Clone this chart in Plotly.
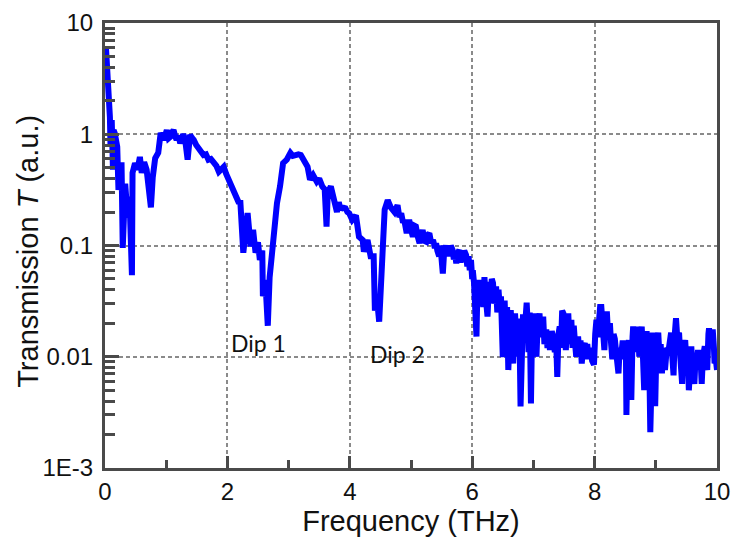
import math
import plotly.graph_objects as go

# Frequency (THz) and transmission T (a.u.)
# part 1: 0 - 5.4 THz
freq_a = [0.016, 0.05, 0.08, 0.09, 0.11, 0.13, 0.14, 0.16, 0.20, 0.22, 0.27, 0.29, 0.33, 0.37, 0.40,
          0.44, 0.45, 0.49, 0.53, 0.57, 0.60, 0.64, 0.68, 0.73, 0.75, 0.78, 0.82, 0.87, 0.91, 0.96,
          1.01, 1.04, 1.07, 1.10, 1.12, 1.15, 1.17, 1.20, 1.23, 1.28, 1.31, 1.35, 1.39, 1.42, 1.45,
          1.49, 1.53, 1.57, 1.61, 1.65, 1.69, 1.73, 1.78, 1.82, 1.86, 1.90, 1.94, 1.98, 2.02, 2.08,
          2.13, 2.19, 2.21, 2.26, 2.30, 2.33, 2.38, 2.42, 2.46, 2.50, 2.53, 2.57, 2.58, 2.62, 2.66,
          2.69, 2.73, 2.77, 2.81, 2.86, 2.91, 2.97, 3.03, 3.07, 3.11, 3.16, 3.20, 3.25, 3.31, 3.35,
          3.40, 3.46, 3.50, 3.55, 3.59, 3.62, 3.64, 3.69, 3.74, 3.79, 3.82, 3.85, 3.88, 3.93, 3.96,
          3.99, 4.04, 4.10, 4.15, 4.21, 4.23, 4.29, 4.34, 4.39, 4.41, 4.44, 4.48, 4.51, 4.54, 4.57,
          4.62, 4.67, 4.73, 4.78, 4.81, 4.84, 4.87, 4.89, 4.93, 4.97, 5.00, 5.03, 5.06, 5.08, 5.11,
          5.14, 5.17, 5.19, 5.22, 5.25, 5.28, 5.30, 5.33, 5.36, 5.39]
trans_a = [5.96, 3.07, 1.43, 0.77, 1.34, 0.48, 1.09, 1.02, 0.77, 0.316, 0.56, 0.095, 0.36, 0.178, 0.275,
           0.054, 0.45, 0.55, 0.48, 0.625, 0.45, 0.56, 0.48, 0.24, 0.22, 0.41, 0.61, 0.68, 1.03, 0.89,
           1.09, 0.92, 0.95, 1.05, 1.09, 0.95, 0.89, 0.97, 0.83, 1.0, 0.89, 0.59, 0.99, 0.93, 0.89,
           0.80, 0.75, 0.70, 0.65, 0.66, 0.59, 0.60, 0.55, 0.52, 0.46, 0.49, 0.51, 0.44, 0.39, 0.33,
           0.275, 0.24, 0.255, 0.086, 0.138, 0.196, 0.098, 0.138, 0.086, 0.107, 0.074, 0.09, 0.035, 0.049, 0.019,
           0.052, 0.086, 0.148, 0.24, 0.34, 0.55, 0.59, 0.68, 0.64, 0.65, 0.66, 0.65, 0.59, 0.51, 0.39,
           0.43, 0.375, 0.40, 0.34, 0.32, 0.148, 0.30, 0.34, 0.255, 0.20, 0.245, 0.21, 0.22, 0.216, 0.20,
           0.195, 0.17, 0.186, 0.12, 0.112, 0.088, 0.112, 0.08, 0.08, 0.026, 0.035, 0.0207, 0.049, 0.12, 0.21,
           0.255, 0.22, 0.20, 0.23, 0.18, 0.195, 0.16, 0.17, 0.129, 0.17, 0.14, 0.12, 0.15, 0.148, 0.12,
           0.105, 0.125, 0.138, 0.11, 0.108, 0.125, 0.129, 0.105, 0.112, 0.095]

# part 2: 5.4 - 10 THz (noisy tail)
freq_b = [5.41, 5.43, 5.46, 5.48, 5.50, 5.52, 5.54, 5.57, 5.59, 5.61, 5.63, 5.65, 5.68, 5.70, 5.72,
          5.74, 5.76, 5.79, 5.81, 5.83, 5.85, 5.87, 5.90, 5.92, 5.94, 5.96, 5.98, 6.00, 6.01, 6.03,
          6.05, 6.07, 6.085, 6.10, 6.12, 6.14, 6.16, 6.18, 6.20, 6.22, 6.25, 6.27, 6.28, 6.30, 6.32,
          6.34, 6.36, 6.39, 6.41, 6.43, 6.45, 6.47, 6.50, 6.52, 6.53, 6.55, 6.57, 6.59, 6.61, 6.63,
          6.65, 6.67, 6.69, 6.70, 6.72, 6.74, 6.75, 6.77, 6.79, 6.81, 6.83, 6.85, 6.87, 6.89, 6.91,
          6.92, 6.94, 6.96, 6.98, 7.00, 7.02, 7.05, 7.07, 7.10, 7.12, 7.14, 7.16, 7.18, 7.21, 7.23,
          7.25, 7.27, 7.30, 7.32, 7.35, 7.37, 7.39, 7.41, 7.43, 7.45, 7.47, 7.49, 7.51, 7.53, 7.55,
          7.57, 7.59, 7.62, 7.64, 7.66, 7.68, 7.70, 7.73, 7.75, 7.77, 7.79, 7.81, 7.84, 7.86, 7.88,
          7.90, 7.93, 7.96, 7.99, 8.01, 8.03, 8.05, 8.07, 8.09, 8.11, 8.13, 8.16, 8.18, 8.20, 8.22,
          8.25, 8.27, 8.29, 8.31, 8.33, 8.36, 8.39, 8.41, 8.44, 8.46, 8.49, 8.51, 8.52, 8.54, 8.56,
          8.58, 8.60, 8.62, 8.63, 8.65, 8.67, 8.69, 8.71, 8.73, 8.75, 8.77, 8.79, 8.81, 8.83, 8.85,
          8.87, 8.89, 8.91, 8.93, 8.95, 8.97, 8.99, 9.01, 9.04, 9.06, 9.08, 9.10, 9.12, 9.15, 9.18,
          9.21, 9.23, 9.25, 9.27, 9.29, 9.31, 9.33, 9.35, 9.38, 9.40, 9.43, 9.45, 9.48, 9.50, 9.52,
          9.54, 9.56, 9.58, 9.60, 9.63, 9.65, 9.67, 9.69, 9.71, 9.73, 9.75, 9.77, 9.80, 9.82, 9.84,
          9.86, 9.87, 9.90, 9.93, 9.95, 9.96, 9.98, 10.0]
trans_b = [0.105, 0.09, 0.08, 0.10, 0.07, 0.056, 0.085, 0.10, 0.085, 0.095, 0.08, 0.10, 0.091, 0.075, 0.085,
           0.069, 0.085, 0.091, 0.07, 0.085, 0.072, 0.09, 0.082, 0.065, 0.08, 0.06, 0.074, 0.05, 0.06, 0.046,
           0.03, 0.0152, 0.04, 0.049, 0.03, 0.035, 0.045, 0.028, 0.052, 0.035, 0.023, 0.04, 0.047, 0.035, 0.05,
           0.046, 0.03, 0.043, 0.025, 0.04, 0.028, 0.035, 0.0099, 0.025, 0.032, 0.015, 0.028, 0.0076, 0.02, 0.0263,
           0.014, 0.0087, 0.02, 0.0245, 0.015, 0.022, 0.010, 0.022, 0.00357, 0.018, 0.024, 0.015, 0.028, 0.0306, 0.018,
           0.011, 0.025, 0.0038, 0.02, 0.0245, 0.014, 0.010, 0.02, 0.0245, 0.015, 0.022, 0.023, 0.013, 0.0176, 0.012,
           0.016, 0.0115, 0.017, 0.0152, 0.011, 0.015, 0.0066, 0.016, 0.0187, 0.012, 0.026, 0.0245, 0.015, 0.0115, 0.02,
           0.0245, 0.013, 0.0215, 0.012, 0.019, 0.0133, 0.010, 0.0152, 0.011, 0.014, 0.0087, 0.012, 0.0133, 0.0095, 0.013,
           0.010, 0.012, 0.0092, 0.0085, 0.016, 0.0215, 0.015, 0.024, 0.028, 0.028, 0.018, 0.0115, 0.02, 0.0256, 0.016,
           0.020, 0.013, 0.0095, 0.016, 0.0145, 0.010, 0.0071, 0.012, 0.011, 0.014, 0.0095, 0.014, 0.003, 0.012, 0.0141,
           0.009, 0.0041, 0.015, 0.0187, 0.012, 0.018, 0.011, 0.0187, 0.010, 0.017, 0.0187, 0.010, 0.005, 0.012, 0.017,
           0.009, 0.012, 0.0021, 0.011, 0.0165, 0.009, 0.0036, 0.012, 0.0165, 0.010, 0.013, 0.0071, 0.011, 0.0076, 0.012,
           0.0115, 0.015, 0.0165, 0.010, 0.0068, 0.016, 0.0222, 0.015, 0.0165, 0.010, 0.0057, 0.012, 0.0141, 0.009, 0.012,
           0.005, 0.010, 0.0124, 0.008, 0.0057, 0.010, 0.009, 0.0115, 0.008, 0.010, 0.0057, 0.010, 0.0124, 0.009, 0.0076,
           0.016, 0.018, 0.012, 0.0176, 0.012, 0.0087, 0.0095, 0.0076]

freq = freq_a + freq_b
trans = trans_a + trans_b

x_ticks = [0, 2, 4, 6, 8, 10]
x_minor = [1, 3, 5, 7, 9]
y_ticks = [0.001, 0.01, 0.1, 1, 10]
y_ticktext = ["1E-3", "0.01", "0.1", "1", "10"]
y_minor = [m * 10.0 ** e for e in range(-3, 1) for m in range(2, 10)]

dip_labels = ["Dip 1", "Dip 2"]
dip_x = [2.03, 4.29]
dip_y = [0.0133, 0.0105]

AX = "#4a4a4a"
GRID = "#8a8a8a"

fig = go.Figure()
fig.add_trace(go.Scatter(x=freq, y=trans, mode="lines",
                         line=dict(color="#0000ff", width=6), showlegend=False))

for t, xx, yy in zip(dip_labels, dip_x, dip_y):
    fig.add_annotation(x=xx, y=math.log10(yy), xref="x", yref="y", yanchor="middle", xanchor="left",
                       text=t, showarrow=False,
                       font=dict(family="Lato", size=23, color="#111111"))

fig.add_annotation(xref="paper", yref="paper", x=-0.125, y=0.487, xanchor="center", yanchor="middle",
                   text="Transmission <i>T</i> (a.u.)", textangle=-90, showarrow=False,
                   font=dict(family="Liberation Sans, Arial", size=29, color="#111111"))

fig.update_layout(
    width=734, height=550,
    margin=dict(l=105, r=17, t=23, b=82, autoexpand=False),
    paper_bgcolor="white", plot_bgcolor="white",
    font=dict(family="Liberation Sans, Arial", color="#111111"),
    xaxis=dict(
        range=[0, 10], tickmode="array", tickvals=x_ticks, automargin=False,
        ticklabeloverflow="allow",
        ticks="inside", ticklen=12, tickwidth=3, tickcolor=AX,
        showline=True, linewidth=3, linecolor=AX, mirror=True,
        showgrid=True, gridcolor=GRID, gridwidth=1.5, griddash="4px,3px",
        zeroline=False, tickfont=dict(size=24, color="#111111"),
        minor=dict(tickmode="array", tickvals=x_minor, ticks="inside",
                   ticklen=8, tickwidth=3, tickcolor=AX, showgrid=False),
        title=dict(text="Frequency (THz)", font=dict(size=29, color="#111111"), standoff=4),
    ),
    yaxis=dict(
        type="log", range=[-3, 1], tickmode="array", tickvals=y_ticks, ticktext=y_ticktext,
        automargin=False, ticklabeloverflow="allow",
        ticks="inside", ticklen=14, tickwidth=3, tickcolor=AX,
        showline=True, linewidth=3, linecolor=AX, mirror=True,
        showgrid=True, gridcolor=GRID, gridwidth=1.5, griddash="4px,3px",
        zeroline=False, tickfont=dict(size=24, color="#111111"),
        ticklabelstandoff=4,
        minor=dict(tickmode="array", tickvals=y_minor, ticks="inside",
                   ticklen=10, tickwidth=3, tickcolor=AX, showgrid=False),
    ),
)

fig.write_html("out.html")
